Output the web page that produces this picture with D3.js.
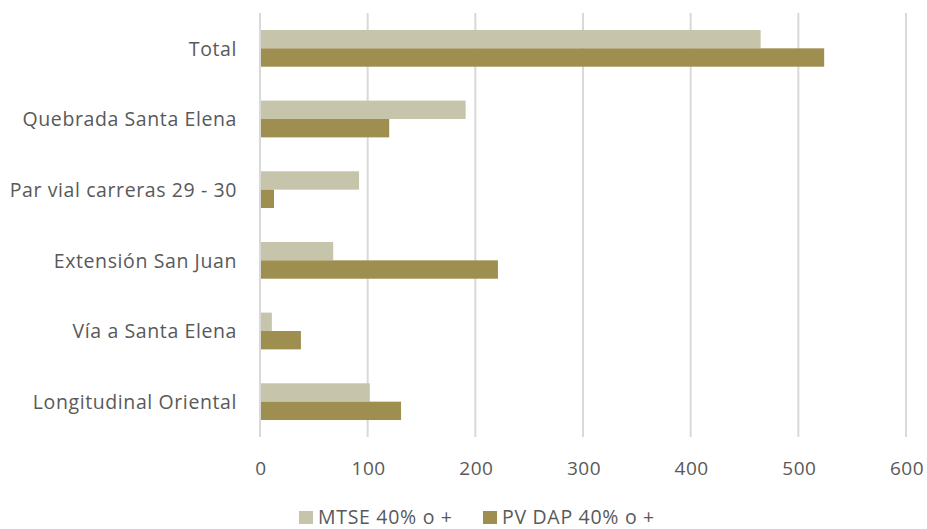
<!DOCTYPE html>
<html>
<head>
<meta charset="utf-8">
<script src="https://cdn.jsdelivr.net/npm/d3@7"></script>
<style>
  body { margin: 0; background: #fff; }
  text { font-family: "Open Sans", "Noto Sans", sans-serif; fill: #595959; }
</style>
</head>
<body>
<div id="chart"></div>
<script>
var categories = ["Total", "Quebrada Santa Elena", "Par vial carreras 29 - 30",
    "Extensión San Juan", "Vía a Santa Elena", "Longitudinal Oriental"];
var seriesNames = ["MTSE 40% o +", "PV DAP 40% o +"];
var mtse = [465, 191, 92, 68, 11, 102];
var pvdap = [524, 120, 13, 221, 38, 131];
var xTicks = [0, 100, 200, 300, 400, 500, 600];
var colors = ["#c6c4aa", "#9e8e50"];

var width = 927, height = 529;
var margin = { top: 13, right: 21, bottom: 92, left: 260 };
var w = width - margin.left - margin.right;
var h = height - margin.top - margin.bottom;

var svg = d3.select("#chart").append("svg")
    .attr("width", width)
    .attr("height", height);

var g = svg.append("g")
    .attr("transform", "translate(" + margin.left + "," + margin.top + ")");

var x = d3.scaleLinear().domain([0, 600]).range([0, w]);
var y = d3.scaleBand().domain(categories).range([0, h]).paddingInner(0.48).paddingOuter(0.24);
var ySub = d3.scaleBand().domain([0, 1]).range([0, y.bandwidth()]);

// gridlines
g.selectAll(".grid")
    .data(xTicks)
    .enter().append("line")
    .attr("x1", function (d) { return x(d); })
    .attr("x2", function (d) { return x(d); })
    .attr("y1", 0)
    .attr("y2", h)
    .style("stroke", "#d9d9d9")
    .style("stroke-width", 2);

// bars
var rows = categories.map(function (c, i) { return { cat: c, vals: [mtse[i], pvdap[i]] }; });
var grp = g.selectAll(".row")
    .data(rows)
    .enter().append("g")
    .attr("transform", function (d) { return "translate(0," + y(d.cat) + ")"; });

grp.selectAll("rect")
    .data(function (d) { return d.vals; })
    .enter().append("rect")
    .attr("x", x(0) + 1)
    .attr("y", function (d, i) { return ySub(i); })
    .attr("height", ySub.bandwidth())
    .attr("width", function (d) { return x(d) - x(0) - 1; })
    .style("fill", function (d, i) { return colors[i]; });

// x axis labels
g.selectAll(".xlab")
    .data(xTicks)
    .enter().append("text")
    .attr("x", function (d) { return x(d) + 1; })
    .attr("y", h + 38)
    .attr("text-anchor", "middle")
    .style("font-size", "19px")
    .style("letter-spacing", "0.5px")
    .text(function (d) { return d; });

// category labels
g.selectAll(".ylab")
    .data(categories)
    .enter().append("text")
    .attr("x", -23)
    .attr("y", function (d) { return y(d) + y.bandwidth() / 2; })
    .attr("dy", "0.38em")
    .attr("text-anchor", "end")
    .style("font-size", "19.5px")
    .style("letter-spacing", "0.6px")
    .text(function (d) { return d; });

// legend
var legend = svg.append("g");
var legX = [299, 483];
seriesNames.forEach(function (s, i) {
    legend.append("rect")
        .attr("x", legX[i])
        .attr("y", 511)
        .attr("width", 14)
        .attr("height", 13)
        .style("fill", colors[i]);
    legend.append("text")
        .attr("x", legX[i] + 19)
        .attr("y", 524)
        .style("font-size", "19.5px")
        .style("letter-spacing", "0.7px")
        .text(s);
});
</script>
</body>
</html>
